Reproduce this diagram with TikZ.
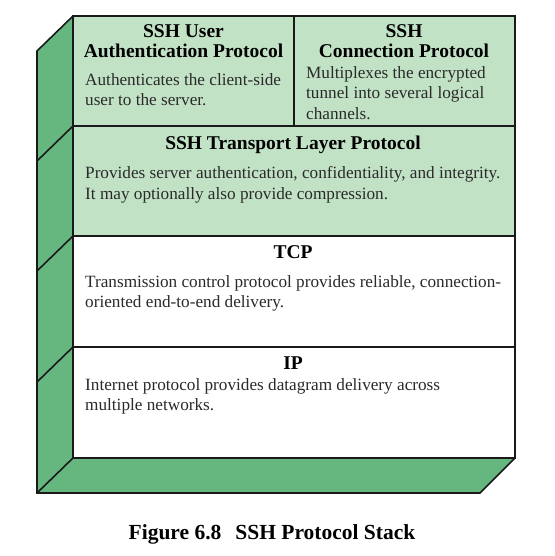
\documentclass[tikz,border=0pt]{standalone}
\usepackage{fontspec}
\setmainfont{Liberation Serif}
\definecolor{sidegreen}{HTML}{66B77F}
\definecolor{lightgreen}{HTML}{C2E2C6}
\definecolor{bodytext}{HTML}{2A2A2A}
\definecolor{edge}{HTML}{1A1A1A}
\tikzset{
  outline/.style={draw=edge, line width=1.6pt, line join=miter},
  title/.style={inner sep=0pt, align=center, text=black, font=\fontsize{19.5}{20}\selectfont\bfseries},
  body/.style={inner sep=0pt, align=left, text=bodytext, font=\fontsize{17.2}{20.6}\selectfont},
  caption/.style={inner sep=0pt, text=black, font=\fontsize{21.5}{24}\selectfont\bfseries}
}
\begin{document}
\begin{tikzpicture}[x=1pt,y=-1pt]
\useasboundingbox[fill=white] (0,0) rectangle (554,556);
% side faces
\fill[sidegreen] (73,16) -- (37,51) -- (37,493) -- (73,458) -- cycle;
\fill[sidegreen] (73,458) -- (515,458) -- (480,493) -- (37,493) -- cycle;
% front layers
\fill[lightgreen] (73,16) rectangle (515,236);
\fill[white] (73,236) rectangle (515,458);
% outlines of side faces
\draw[outline] (73,16) -- (37,51) -- (37,493) -- (480,493) -- (515,458);
\draw[outline] (73,126) -- (37,161);
\draw[outline] (73,236) -- (37,271);
\draw[outline] (73,347) -- (37,382);
\draw[outline] (73,458) -- (37,493);
% front outlines
\draw[outline] (73,16) rectangle (515,458);
\draw[outline] (73,126) -- (515,126);
\draw[outline] (73,236) -- (515,236);
\draw[outline] (73,347) -- (515,347);
\draw[outline] (294,16) -- (294,126);
% texts
\node[title, anchor=north] (uatitle) at (183.5,24.5) {SSH User\\Authentication Protocol};
\node[body, anchor=north west] (uabody) at (85,73) {Authenticates the client-side\\user to the server.};
\node[title, anchor=north] (cptitle) at (404,24.5) {SSH\\Connection Protocol};
\node[body, anchor=north west] (cpbody) at (306,66) {Multiplexes the encrypted\\tunnel into several logical\\channels.};
\node[title, anchor=north] (tltitle) at (293,136) {SSH Transport Layer Protocol};
\node[body, anchor=north west] (tlbody) at (85,166.5) {Provides server authentication, confidentiality, and integrity.\\It may optionally also provide compression.};
\node[title, anchor=north] (tcptitle) at (293,245.5) {TCP};
\node[body, anchor=north west] (tcpbody) at (85,275) {Transmission control protocol provides reliable, connection-\\oriented end-to-end delivery.};
\node[title, anchor=north] (iptitle) at (293,356.5) {IP};
\node[body, anchor=north west] (ipbody) at (85,378) {Internet protocol provides datagram delivery across\\multiple networks.};
\node[caption] (cap) at (272,534) {Figure 6.8\hspace{0.4em} SSH Protocol Stack};
\end{tikzpicture}
\end{document}
